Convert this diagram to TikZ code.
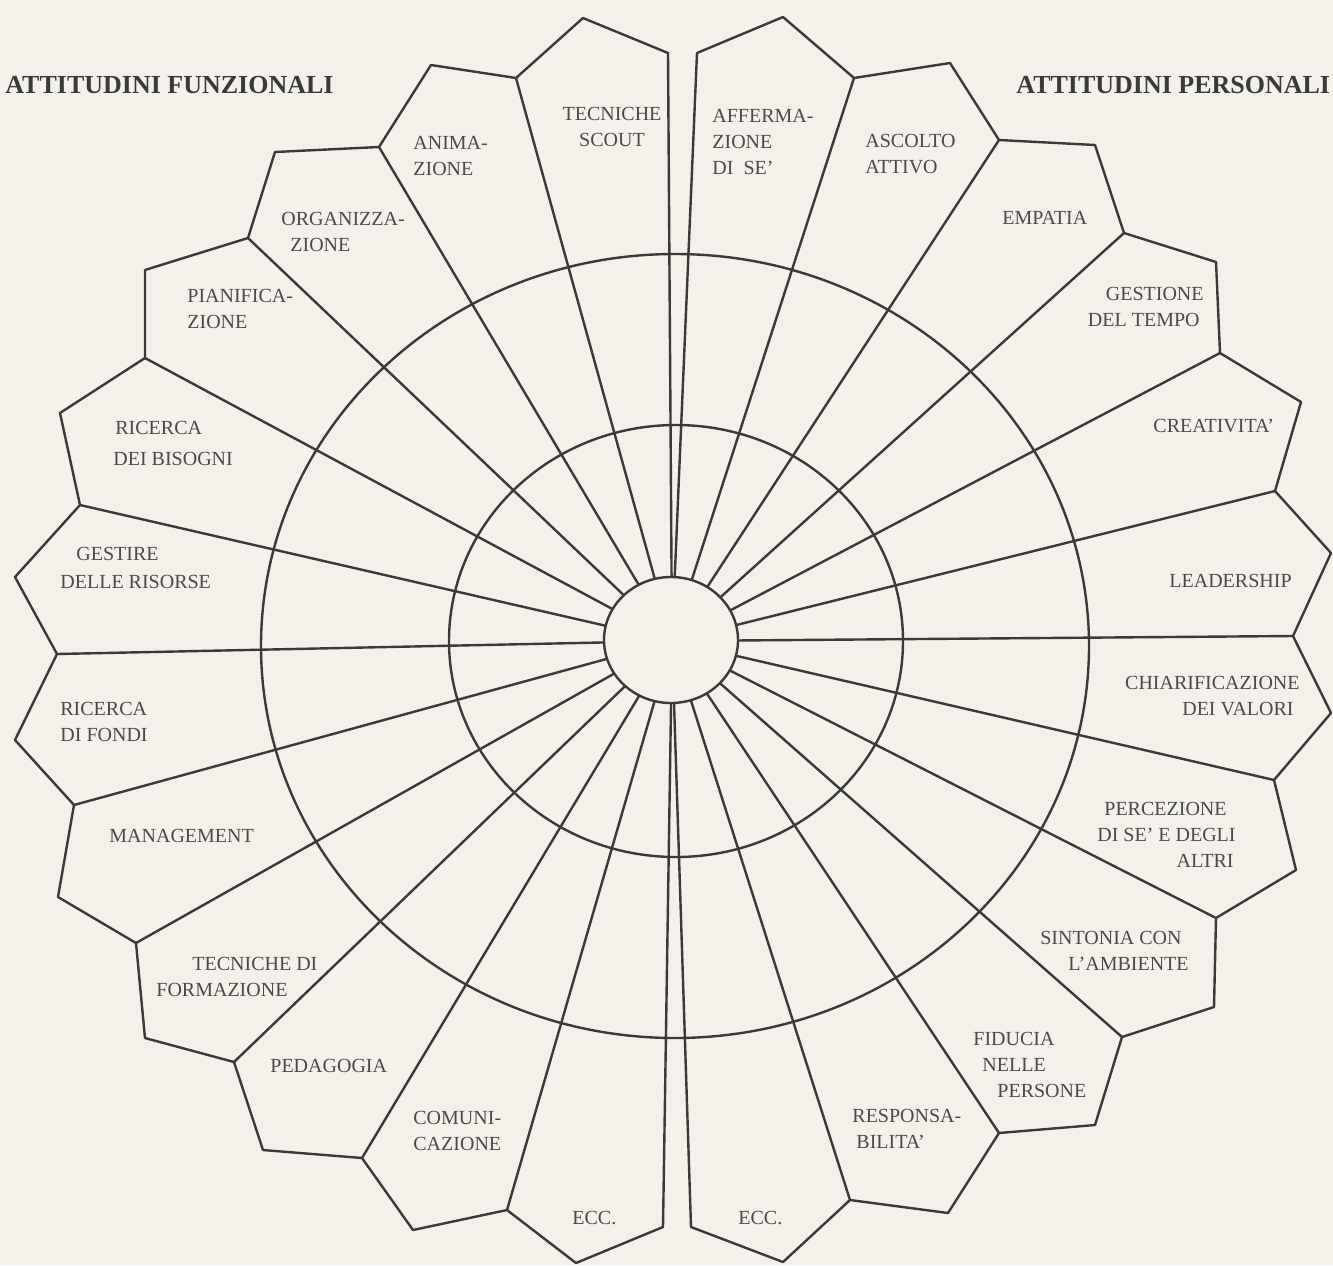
\documentclass[tikz,border=0pt]{standalone}
\usepackage{fontspec}
\setmainfont{Liberation Serif}
\usepackage{tikz}
\definecolor{paper}{HTML}{F3F1EA}
\definecolor{ink}{HTML}{3A3A3A}
\definecolor{txt}{HTML}{4A4A4A}
\tikzset{
  ln/.style={draw=ink,line width=1.2pt,line join=round,line cap=round},
  lbl/.style={font=\fontsize{10}{13}\selectfont,text=txt,inner sep=0pt,align=left,anchor=north west},
  lblr/.style={lbl,align=right,anchor=north east},
  lblc/.style={lbl,align=center,anchor=north},
  ttl/.style={font=\bfseries\fontsize{13}{15}\selectfont,text=ink,inner sep=0pt,anchor=north west},
}
\begin{document}
\begin{tikzpicture}[x=0.5pt,y=-0.5pt]
  \fill[paper] (0,0) rectangle (1333,1265);
  \useasboundingbox (0,0) rectangle (1333,1265);

  \coordinate (c) at (672,641);
  % right half of the rim
  \coordinate (r0) at (697,53);   \coordinate (p1) at (783,17);
  \coordinate (r1) at (854,78);   \coordinate (p2) at (950,63);
  \coordinate (r2) at (999,140);  \coordinate (p3) at (1095,145);
  \coordinate (r3) at (1124,233); \coordinate (p4) at (1216,262);
  \coordinate (r4) at (1220,353); \coordinate (p5) at (1301,402);
  \coordinate (r5) at (1275,491); \coordinate (p6) at (1331,553);
  \coordinate (r6) at (1293,636); \coordinate (p7) at (1331,713);
  \coordinate (r7) at (1274,780); \coordinate (p8) at (1296,870);
  \coordinate (r8) at (1216,918); \coordinate (p9) at (1214,1007);
  \coordinate (r9) at (1122,1037);\coordinate (p10) at (1095,1125);
  \coordinate (r10) at (999,1133);\coordinate (p11) at (948,1213);
  \coordinate (r11) at (850,1200);\coordinate (p12) at (783,1262);
  \coordinate (r12) at (691,1227);
  % left half of the rim
  \coordinate (l0) at (668,53);   \coordinate (q1) at (583,18);
  \coordinate (l1) at (516,78);   \coordinate (q2) at (431,65);
  \coordinate (l2) at (379,147);  \coordinate (q3) at (275,152);
  \coordinate (l3) at (248,238);  \coordinate (q4) at (145,270);
  \coordinate (l4) at (145,358);  \coordinate (q5) at (60,413);
  \coordinate (l5) at (80,505);   \coordinate (q6) at (15,577);
  \coordinate (l6) at (57,654);   \coordinate (q7) at (15,740);
  \coordinate (l7) at (74,805);   \coordinate (q8) at (58,897);
  \coordinate (l8) at (136,943);  \coordinate (q9) at (145,1038);
  \coordinate (l9) at (234,1062); \coordinate (q10) at (263,1150);
  \coordinate (l10) at (362,1158);\coordinate (q11) at (413,1230);
  \coordinate (l11) at (507,1210);\coordinate (q12) at (576,1263);
  \coordinate (l12) at (663,1227);

  \draw[ln] (675,646) ellipse [x radius=207pt,y radius=196pt];
  \draw[ln] (676,641) ellipse [x radius=113.5pt,y radius=108pt];

  \draw[ln] (c) -- (r0) (c) -- (r1) (c) -- (r2) (c) -- (r3) (c) -- (r4)
    (c) -- (r5) (c) -- (r6) (c) -- (r7) (c) -- (r8) (c) -- (r9)
    (c) -- (r10) (c) -- (r11) (c) -- (r12);
  \draw[ln] (c) -- (l0) (c) -- (l1) (c) -- (l2) (c) -- (l3) (c) -- (l4)
    (c) -- (l5) (c) -- (l6) (c) -- (l7) (c) -- (l8) (c) -- (l9)
    (c) -- (l10) (c) -- (l11) (c) -- (l12);

  \draw[ln] (r0) -- (p1) -- (r1) -- (p2) -- (r2) -- (p3) -- (r3) -- (p4)
    -- (r4) -- (p5) -- (r5) -- (p6) -- (r6) -- (p7) -- (r7) -- (p8) -- (r8)
    -- (p9) -- (r9) -- (p10) -- (r10) -- (p11) -- (r11) -- (p12) -- (r12);
  \draw[ln] (l0) -- (q1) -- (l1) -- (q2) -- (l2) -- (q3) -- (l3) -- (q4)
    -- (l4) -- (q5) -- (l5) -- (q6) -- (l6) -- (q7) -- (l7) -- (q8) -- (l8)
    -- (q9) -- (l9) -- (q10) -- (l10) -- (q11) -- (l11) -- (q12) -- (l12);

  \filldraw[ln,fill=paper] (671,640) ellipse [x radius=33.5pt,y radius=31.5pt];

  \node[ttl] (funz) at (5,76) {ATTITUDINI FUNZIONALI};
  \node[ttl] (pers) at (1016,76) {ATTITUDINI PERSONALI};

  \node[lblc] (scout) at (612,106.5) {TECNICHE\\SCOUT};
  \node[lbl] (anim) at (413,135.5) {ANIMA-\\ZIONE};
  \node[lbl] (organ) at (281,211.5) {ORGANIZZA-\\\hspace*{4.5pt}ZIONE};
  \node[lbl] (pianif) at (187,288.5) {PIANIFICA-\\ZIONE};
  \node[lbl] (bisogni) at (113,420.5) {\hspace*{1pt}RICERCA\\[2.5pt]DEI BISOGNI};
  \node[lbl] (risorse) at (60,546.5) {\hspace*{8pt}GESTIRE\\[1pt]DELLE RISORSE};
  \node[lbl] (fondi) at (60,701.5) {RICERCA\\DI FONDI};
  \node[lbl] (manag) at (109,828.5) {MANAGEMENT};
  \node[lbl] (formaz) at (156,956.5) {\hspace*{18pt}TECNICHE DI\\FORMAZIONE};
  \node[lbl] (pedag) at (270,1058.5) {PEDAGOGIA};
  \node[lbl] (comun) at (413,1110.5) {COMUNI-\\CAZIONE};
  \node[lbl] (eccl) at (572,1210.5) {ECC.};

  \node[lbl] (affer) at (712,108.5) {AFFERMA-\\ZIONE\\DI\ \ SE'};
  \node[lbl] (ascolto) at (865,133.5) {ASCOLTO\\ATTIVO};
  \node[lbl] (empatia) at (1002,210.5) {EMPATIA};
  \node[lblr] (tempo) at (1204,286.5) {GESTIONE\\DEL TEMPO\hspace*{2pt}};
  \node[lbl] (creat) at (1153,418.5) {CREATIVITA'};
  \node[lbl] (leader) at (1169,573.5) {LEADERSHIP};
  \node[lblr] (valori) at (1300,675.5) {CHIARIFICAZIONE\\DEI VALORI\hspace*{3pt}};
  \node[lblr] (percez) at (1236,801.5) {PERCEZIONE\hspace*{4.5pt}\\DI SE' E DEGLI\\ALTRI\hspace*{1pt}};
  \node[lblr] (sinton) at (1189,930.5) {SINTONIA CON\hspace*{3.5pt}\\L'AMBIENTE};
  \node[lbl] (fiducia) at (973,1031.5) {FIDUCIA\\\hspace*{4.5pt}NELLE\\\hspace*{12pt}PERSONE};
  \node[lbl] (respons) at (852,1108.5) {RESPONSA-\\\hspace*{2pt}BILITA'};
  \node[lbl] (eccr) at (738,1210.5) {ECC.};
\end{tikzpicture}
\end{document}
